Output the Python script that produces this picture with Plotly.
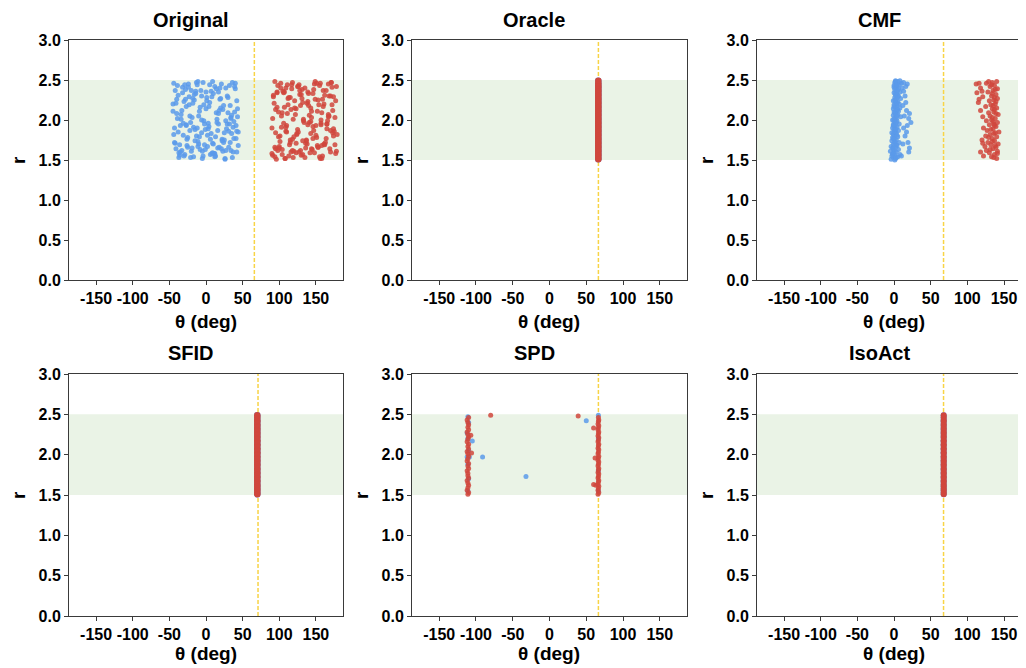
import plotly.graph_objects as go

# ---------------- data ----------------
TITLES = ["Original", "Oracle", "CMF", "SFID", "SPD", "IsoAct"]
TARGET_THETA = [66, 66.5, 67.5, 71, 66.5, 67.5]   # dashed yellow line per panel
X_TICKS = [-150, -100, -50, 0, 50, 100, 150]
X_TICK_TEXT = ["-150", "-100", "-50", "0", "50", "100", "150"]
Y_TICKS = [0.0, 0.5, 1.0, 1.5, 2.0, 2.5, 3.0]
BAND = [1.5, 2.5]

# Original
orig_blue_theta = [-44,-41,-38,-35,-33,-30,-28,-25,-22,-20,-18,-15,-12,-10,-8,-5,-3,0,2,5,7,9,12,14,17,19,22,24,27,29,31,34,36,39,41,43,
                   -43,-40,-37,-34,-31,-29,-26,-23,-21,-17,-14,-11,-9,-6,-4,-1,1,4,6,10,13,15,18,21,23,26,28,30,33,35,38,40,42,44,-27,16,
                   -45,-42,-39,-36,-32,-27,-24,-19,-16,-13,-7,-2,3,8,11,16,20,25,32,37,
                   -44,-40,-35,-30,-26,-21,-16,-11,-6,-1,4,9,14,19,24,29,34,39,43,
                   -42,-36,-31,-24,-18,-12,-5,1,6,13,18,25,31,36,41,
                   -43,-39,-34,-29,-23,-17,-13,-8,-3,2,7,12,17,22,27,32,37,42,
                   -45,-38,-32,-25,-19,-14,-9,-4,0,5,10,15,20,26,30,35,40,44,
                   -41,-33,-27,-20,-15,-10,-6,3,8,12,21,27,33,38,
                   -37,-28,-22,-11,-2,9,17,23,34,42]
orig_blue_r = [2.46,1.64,2.31,1.93,2.12,1.55,2.38,1.78,2.05,1.61,2.27,1.88,2.44,1.70,2.16,1.52,1.99,2.35,1.67,2.22,1.83,2.48,1.58,2.09,1.95,2.40,1.74,2.18,1.62,2.30,1.86,2.03,1.53,2.42,1.77,2.14,
               1.90,2.26,1.59,2.07,1.81,2.44,1.68,2.19,1.97,1.54,2.36,1.73,2.11,1.84,2.47,1.63,2.24,1.92,1.57,2.33,1.79,2.01,1.66,2.45,2.13,1.51,1.89,2.28,1.72,2.06,1.98,2.39,1.60,1.85,2.17,1.65,
               2.20,1.71,2.02,1.56,2.34,1.94,2.41,1.65,2.25,1.80,2.37,1.69,1.96,2.29,1.58,1.87,2.15,1.75,2.43,1.91,
               1.82,2.08,1.60,2.23,1.76,1.53,2.32,1.67,2.00,1.88,2.17,1.59,2.39,2.26,1.72,1.95,1.62,2.10,2.04,
               2.37,1.69,1.96,2.45,2.21,1.90,1.61,2.28,1.76,1.55,2.12,1.84,1.66,2.47,1.93,
               1.72,2.43,2.01,1.57,2.29,1.91,2.47,1.63,2.19,1.81,2.36,1.54,2.08,1.76,2.40,1.95,1.60,2.24,
               2.11,1.85,2.41,1.66,2.03,2.33,1.79,1.55,2.14,2.44,1.70,1.97,2.27,1.52,2.09,1.83,2.46,1.68,
               2.21,1.62,1.93,2.37,1.74,2.05,2.30,1.89,1.58,2.42,1.64,1.99,2.18,1.77,
               1.53,2.26,1.87,2.48,1.95,1.71,2.35,1.61,2.02,1.86]
orig_red_theta = [90,93,95,98,100,103,105,108,110,113,115,118,120,123,125,128,130,133,135,138,140,143,145,148,150,153,155,158,160,163,165,168,170,173,175,178,
                  91,94,97,99,102,104,107,109,112,114,117,119,122,124,127,129,132,134,137,139,142,144,147,149,152,154,157,159,162,164,167,169,172,174,177,96,
                  92,101,106,111,116,121,126,131,136,141,146,151,156,161,166,171,176,99,124,149,
                  90,97,104,111,118,125,132,139,146,153,160,167,174,94,115,136,157,178,128,
                  95,102,109,116,123,130,137,144,151,158,165,172,108,143,170,
                  92,98,104,110,117,123,129,135,141,147,153,159,165,171,177,
                  95,101,107,113,119,126,132,138,144,150,156,162,168,174,179,
                  91,97,103,109,115,121,127,133,140,146,152,158,164,170,176,
                  94,100,112,120,131,139,148,155,161,167,173,106,118,143,157]
orig_red_r = [1.58,2.21,1.84,2.43,1.67,2.05,2.36,1.52,1.93,2.28,1.75,2.47,1.61,2.14,1.88,2.32,1.56,2.01,2.40,1.70,2.18,1.98,1.63,2.45,1.81,2.25,1.54,2.09,2.37,1.72,1.95,2.30,1.60,2.12,1.86,2.42,
              2.02,1.66,2.34,1.79,2.46,1.57,2.16,1.91,2.27,1.69,2.39,1.53,2.07,1.83,2.44,1.62,2.22,1.97,1.74,2.35,1.59,2.11,1.87,2.48,1.68,2.19,1.94,1.55,2.31,1.77,2.04,1.64,2.41,1.89,2.24,1.51,
              2.29,1.73,1.96,2.44,1.60,2.15,1.85,2.38,1.65,2.06,2.33,1.78,1.52,2.20,1.99,2.47,1.69,2.10,1.82,2.26,
              1.90,2.35,1.63,2.08,1.76,2.42,1.57,2.23,1.92,1.66,2.17,2.45,1.80,1.54,2.28,1.71,2.00,1.61,2.37,
              1.64,2.40,1.86,2.13,1.59,2.32,1.75,2.03,2.46,1.68,1.95,2.19,1.52,1.83,2.30,
              2.31,1.62,2.09,1.85,2.44,1.71,2.18,1.53,1.97,2.38,1.66,2.26,1.89,2.47,1.58,
              2.13,1.80,2.35,1.55,2.01,2.42,1.74,2.21,1.64,1.93,2.46,1.69,2.05,2.29,1.82,
              1.56,2.16,1.91,2.40,1.72,2.24,1.60,1.99,2.33,1.77,2.11,1.52,2.37,1.87,2.03,
              2.48,1.65,2.19,1.79,2.27,1.94,1.59,2.43,1.70,2.07,1.84,2.34,1.62,2.15,1.96]

# vertical "collapsed" bars (Oracle, SFID, IsoAct)
bar_r = [1.51,1.53,1.56,1.58,1.61,1.63,1.66,1.68,1.71,1.73,1.76,1.78,1.81,1.83,1.86,1.88,1.91,1.93,1.96,1.98,
         2.01,2.03,2.06,2.08,2.11,2.13,2.16,2.18,2.21,2.23,2.26,2.28,2.31,2.33,2.36,2.38,2.41,2.43,2.46,2.49]
oracle_theta = 66.4
sfid_theta = 70.0
isoact_theta = 67.7

# CMF
cmf_blue_theta = [-4,2,-1,5,-3,1,8,-2,3,-5,0,6,-2,2,-4,4,-1,1,7,-3,3,0,-2,5,1,-1,3,-3,2,6,0,-2,4,1,-1,7,2,0,4,-2,
                  3,1,9,-1,5,2,0,6,3,-1,8,2,4,0,7,2,5,-1,3,9,1,6,2,4,0,8,3,1,6,11,2,4,0,7,3,10,1,5,2,13,
                  20,21,19,15,17,13,18,23,20,14,21,17,12,16,15,13,16,18,10,12,
                  1,3,-2,0,-1,3,1,-1,4,0,2,-1,3,0,4,1,5,0,4,1,5,2,5,0,4,2,8]
cmf_blue_r = [1.51,1.52,1.53,1.54,1.55,1.56,1.57,1.58,1.60,1.61,1.62,1.63,1.65,1.66,1.67,1.68,1.70,1.71,1.72,1.74,
              1.75,1.76,1.78,1.79,1.80,1.82,1.83,1.84,1.86,1.87,1.88,1.90,1.91,1.92,1.94,1.95,1.96,1.98,1.99,2.00,
              2.02,2.03,2.04,2.06,2.07,2.08,2.10,2.11,2.12,2.14,2.15,2.16,2.18,2.19,2.20,2.22,2.23,2.24,2.26,2.27,
              2.28,2.30,2.31,2.32,2.34,2.35,2.36,2.38,2.39,2.40,2.41,2.42,2.43,2.44,2.45,2.46,2.47,2.48,2.49,2.47,
              1.60,1.65,1.72,1.80,1.85,1.90,1.93,1.97,2.02,2.05,2.08,2.12,2.18,2.22,2.30,2.36,2.42,2.45,1.55,1.70,
              1.50,1.53,1.57,1.59,1.64,1.69,1.73,1.77,1.81,1.85,1.89,1.93,1.97,2.01,2.05,2.09,2.13,2.17,2.21,2.25,
              2.29,2.33,2.37,2.41,2.44,2.48,2.49]
cmf_red_theta = [140,133,122,137,130,141,126,135,139,124,132,142,128,137,120,134,140,125,131,138,
                 143,127,135,122,139,130,136,141,126,133,138,121,131,142,129,136,118,134,140,125,
                 132,138,115,130,136,141,121,133,139,113,128,135,141,118,131,137,112,126,134,140,
                 136,141,131,138,134,129,136,132,137,135,134,139,137,135,139,137,134,138,133,129,118,121,116,120,116]
cmf_red_r = [1.52,1.54,1.55,1.57,1.59,1.61,1.62,1.64,1.66,1.67,1.69,1.70,1.72,1.74,1.75,1.77,1.79,1.80,1.82,1.84,
             1.85,1.87,1.89,1.90,1.92,1.94,1.95,1.97,1.99,2.00,2.02,2.04,2.05,2.07,2.09,2.10,2.12,2.14,2.15,2.17,
             2.19,2.20,2.22,2.24,2.25,2.27,2.29,2.30,2.32,2.34,2.35,2.37,2.39,2.40,2.42,2.43,2.45,2.46,2.47,2.48,
             1.53,1.58,1.63,1.68,1.73,1.78,1.83,1.88,1.93,1.98,2.03,2.08,2.13,2.18,2.23,2.28,2.33,2.38,2.44,2.48,1.60,1.71,2.26,2.36,2.46]

# SPD
spd_red_theta = [-111,-110,-112,-111,-110,-111,-112,-110,-111,-111,-112,-110,-111,-110,-112,-111,-110,-111,-112,-110,
                 -111,-110,-112,-111,-110,-111,-112,-110,-111,-110,-111,-112,-110,
                 66,67,66,66.5,67,66,66.5,67,66,66.5,67,66,66.5,67,66,66.5,67,66,66.5,67,
                 66,66.5,67,66,66.5,67,66,66.5,67,66,66.5,67,66,66.5,67,66,66.5,67,66.5,
                 -80,39,60,-107,-106,60,63,62]
spd_red_r = [1.51,1.53,1.56,1.59,1.62,1.65,1.68,1.71,1.74,1.77,1.80,1.83,1.86,1.89,1.92,1.95,1.98,2.01,2.04,2.07,
             2.10,2.13,2.16,2.19,2.22,2.25,2.28,2.31,2.34,2.37,2.40,2.43,2.46,
             1.51,1.53,1.56,1.58,1.61,1.63,1.66,1.68,1.71,1.73,1.76,1.78,1.81,1.83,1.86,1.88,1.91,1.93,1.96,1.98,
             2.01,2.03,2.06,2.08,2.11,2.13,2.16,2.18,2.21,2.23,2.26,2.28,2.31,2.33,2.36,2.38,2.41,2.43,2.46,2.49,
             2.48,2.33,2.24,2.02,1.63,1.62,1.96,1.67]
spd_blue_theta = [-111,-110,-111,-112,-110,-111,-112,-110,-111, 66.5,66.5,66.5,66.5,
                  -105,-91,-32,50,-109]
spd_blue_r = [1.55,1.70,1.88,1.97,2.05,2.20,2.27,2.40,2.47, 1.55,1.80,2.20,2.49,
              2.17,1.97,1.73,2.42,1.97]

# ---------------- layout geometry ----------------
# The page body has an 8px margin, so the figure is laid out in page px minus 8.
OFF = 8
W, H = 1026 - OFF, 668 - OFF
COL_PX = [(69, 343), (412, 687), (757, 1026)]   # page px
ROW_PX = [(40, 280), (374, 616)]
X_RANGES = [[-187, 187], [-187, 187], [-187, 180]]

BLUE = "rgb(90,154,234)"
RED = "rgb(208,70,60)"
BAND_COLOR = "rgb(234,243,230)"
LINE_YELLOW = "rgb(248,212,70)"
AXIS_COLOR = "#3a3a3a"
FONT = "Liberation Sans, Arial, Helvetica, sans-serif"

fig = go.Figure()


def ax_id(i):
    return "" if i == 0 else str(i + 1)


def px_x(p):
    return (p - OFF) / W


def px_y(p):
    return 1 - (p - OFF) / H


def add_pts(i, t, r, color, size=5, opacity=0.85):
    if not isinstance(t, list):
        t = [t] * len(r)
    fig.add_trace(go.Scatter(
        x=t, y=r, mode="markers",
        marker=dict(color=color, size=size, opacity=opacity, line=dict(width=0)),
        xaxis="x" + ax_id(i), yaxis="y" + ax_id(i), showlegend=False, hoverinfo="skip"))


add_pts(0, orig_blue_theta, orig_blue_r, BLUE)
add_pts(0, orig_red_theta, orig_red_r, RED)
add_pts(1, oracle_theta, bar_r, BLUE, size=6.5, opacity=1)
add_pts(1, oracle_theta, bar_r, RED, size=6.5, opacity=1)
add_pts(2, cmf_blue_theta, cmf_blue_r, BLUE)
add_pts(2, cmf_red_theta, cmf_red_r, RED)
add_pts(3, sfid_theta, bar_r, BLUE, size=6.5, opacity=1)
add_pts(3, sfid_theta, bar_r, RED, size=6.5, opacity=1)
add_pts(4, spd_blue_theta, spd_blue_r, BLUE)
add_pts(4, spd_red_theta, spd_red_r, RED)
add_pts(5, isoact_theta, bar_r, BLUE, size=6, opacity=1)
add_pts(5, isoact_theta, bar_r, RED, size=6, opacity=1)

layout = dict(
    template="none",
    width=W, height=H, margin=dict(l=0, r=0, t=0, b=0, pad=0),
    paper_bgcolor="white", plot_bgcolor="white",
    font=dict(family=FONT, color="black"),
)
shapes = []
annotations = []
for i in range(6):
    row, col = divmod(i, 3)
    x0p, x1p = COL_PX[col]
    y0p, y1p = ROW_PX[row]
    xd = [max(0, px_x(x0p)), min(1, px_x(x1p))]
    yd = [max(0, px_y(y1p)), min(1, px_y(y0p))]
    k = ax_id(i)
    common = dict(ticks="outside", ticklen=4, tickcolor=AXIS_COLOR, tickwidth=1,
                  showline=True, linecolor=AXIS_COLOR, linewidth=1,
                  showgrid=False, zeroline=False, automargin=False,
                  tickfont=dict(family=FONT, size=16, weight="bold", color="black"))
    layout["xaxis" + k] = dict(domain=xd, range=X_RANGES[col], anchor="y" + k,
                               tickvals=X_TICKS, ticktext=X_TICK_TEXT, tickangle=0,
                               mirror=True, **common)
    layout["yaxis" + k] = dict(domain=yd, range=[0, 3], anchor="x" + k,
                               tickvals=Y_TICKS, tickformat=".1f", tickangle=0,
                               mirror=(col != 2), **common)
    xr = "x" + k
    yr = "y" + k
    shapes.append(dict(type="rect", xref=xr + " domain", yref=yr, x0=0, x1=1,
                       y0=BAND[0], y1=BAND[1], fillcolor=BAND_COLOR, line=dict(width=0), layer="below"))
    shapes.append(dict(type="line", xref=xr, yref=yr + " domain", x0=TARGET_THETA[i], x1=TARGET_THETA[i],
                       y0=0, y1=1, line=dict(color=LINE_YELLOW, width=1.5, dash="4px,2px"), layer="below"))
    cx = x0p + 137
    annotations.append(dict(text="<b>%s</b>" % TITLES[i], xref="paper", yref="paper",
                            x=px_x(cx - 15), y=px_y(20 if row == 0 else 353),
                            xanchor="center", yanchor="middle", showarrow=False,
                            font=dict(family=FONT, size=20, color="black")))
    annotations.append(dict(text="<b>θ (deg)</b>", xref="paper", yref="paper",
                            x=px_x(cx), y=px_y(321 if row == 0 else 653),
                            xanchor="center", yanchor="middle", showarrow=False,
                            font=dict(family=FONT, size=19, color="black")))
    annotations.append(dict(text="<b>r</b>", xref="paper", yref="paper", textangle=-90,
                            x=px_x(x0p - 51), y=px_y((y0p + y1p) / 2),
                            xanchor="center", yanchor="middle", showarrow=False,
                            font=dict(family=FONT, size=19, color="black")))

layout["shapes"] = shapes
layout["annotations"] = annotations
fig.update_layout(**layout)
fig.write_html("out.html")
